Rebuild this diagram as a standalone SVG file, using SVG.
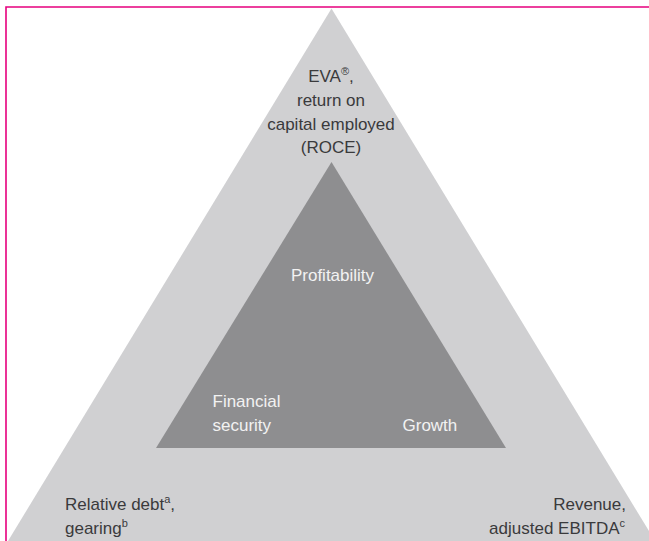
<svg xmlns="http://www.w3.org/2000/svg" width="649" height="541" viewBox="0 0 649 541">
  <style>
    .txt { font-family: "Liberation Sans", Arial, sans-serif; font-size: 17px; }
    .outer-t { fill: #3a3a3c; }
    .inner-t { fill: #f2f2f2; }
    .sup { font-size: 11px; }
  </style>
  <rect x="0" y="0" width="649" height="541" fill="#ffffff"/>
  <g id="outer-triangle">
    <polygon points="331.5,8.5 8,541 655,541" fill="#d0d0d2"/>
  </g>
  <g id="inner-triangle">
    <polygon points="331.5,162 156,448 506,448" fill="#8e8e90"/>
  </g>
  <path d="M6,541 V7 H649" fill="none" stroke="#e6007e" stroke-width="1.6"/>
  <g id="node-eva" class="txt outer-t" text-anchor="middle">
    <text x="331" y="82">EVA<tspan class="sup" dy="-7">®</tspan><tspan dy="7">,</tspan></text>
    <text x="331" y="106">return on</text>
    <text x="331" y="129.5">capital employed</text>
    <text x="331" y="153">(ROCE)</text>
  </g>
  <g id="node-debt" class="txt outer-t">
    <text x="65" y="510">Relative debt<tspan class="sup" dy="-7">a</tspan><tspan dy="7">,</tspan></text>
    <text x="65" y="533.5">gearing<tspan class="sup" dy="-7">b</tspan></text>
  </g>
  <g id="node-revenue" class="txt outer-t" text-anchor="end">
    <text x="626" y="510">Revenue,</text>
    <text x="625" y="533.5">adjusted EBITDA<tspan class="sup" dy="-7">c</tspan></text>
  </g>
  <g id="node-profitability" class="txt inner-t" text-anchor="middle">
    <text x="332.5" y="281">Profitability</text>
  </g>
  <g id="node-financial-security" class="txt inner-t">
    <text x="212.5" y="407">Financial</text>
    <text x="212.5" y="431">security</text>
  </g>
  <g id="node-growth" class="txt inner-t">
    <text x="402.5" y="431">Growth</text>
  </g>
  <g id="connectors"></g>
</svg>
